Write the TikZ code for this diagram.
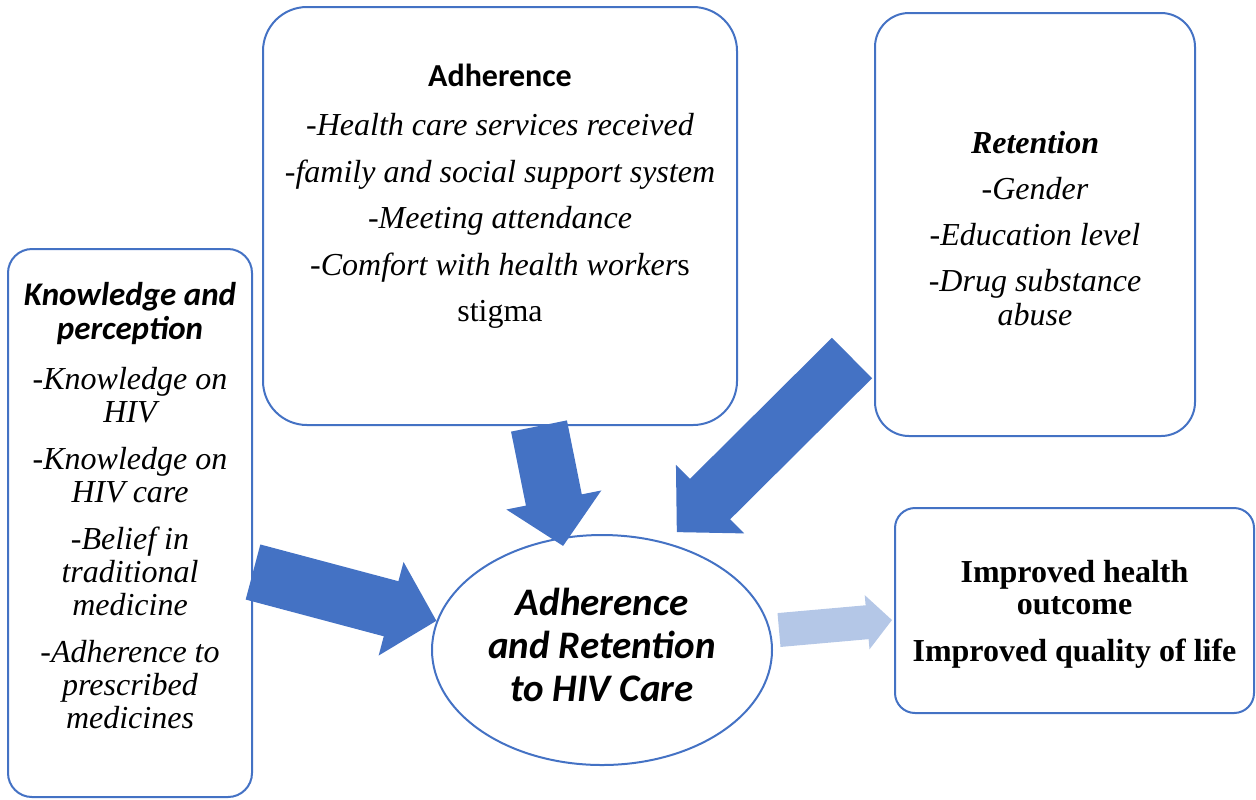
\documentclass[tikz,border=0pt]{standalone}
\usepackage{fontspec}
\setmainfont{Liberation Serif}
\newfontfamily\calfont{Carlito}
\usetikzlibrary{arrows.meta,shapes.geometric}
\definecolor{frame-color}{RGB}{68,114,196}
\definecolor{arrow-color}{RGB}{68,114,196}
\definecolor{light-arrow-color}{RGB}{180,199,231}
\tikzset{
	factorbox/.style={draw=frame-color, line width=1pt, rounded corners=#1, inner sep=0pt},
	boxtext/.style={anchor=north, align=center, inner sep=0pt},
	fatarrow/.style={arrow-color, line width=28.5pt, -{Triangle[length=23.5pt,width=47pt]}},
	lightarrow/.style={light-arrow-color, line width=17pt, -{Triangle[length=12.5pt,width=26.5pt]}}
}

\begin{document}
\begin{tikzpicture}[x=0.5pt,y=-0.5pt]
	    \useasboundingbox (0,0) rectangle (1256,799);
	
	    \node[factorbox=12pt, minimum width=122pt, minimum height=274pt] (know) at (130,523) {};
	    \node[factorbox=22pt, minimum width=237pt, minimum height=209pt] (adh) at (500,216) {};
	    \node[factorbox=17pt, minimum width=160pt, minimum height=211.5pt] (ret) at (1035,224.5) {};
	    \node[factorbox=10pt, minimum width=179.5pt, minimum height=102.5pt] (out) at (1074.5,610.5) {};
	    \node[draw=frame-color, line width=1pt, ellipse, minimum width=170pt, minimum height=115pt, inner sep=0pt] (care) at (602,650) {};
	
	    \node[boxtext, font=\calfont\bfseries\itshape\fontsize{16.5}{17}\selectfont] (know-title) at (130,282) {Knowledge and\\perception};
	    \node[boxtext, font=\itshape\fontsize{16}{16.5}\selectfont] (know-text) at (130,367) {-Knowledge on\\HIV\\[7pt]-Knowledge on\\HIV care\\[7pt]-Belief in\\traditional\\medicine\\[7pt]-Adherence to\\prescribed\\medicines};
	
	    \node[anchor=base, inner sep=0pt, font=\calfont\bfseries\fontsize{16}{18}\selectfont] (adh-title) at (500,86) {Adherence};
	    \node[boxtext, font=\itshape\fontsize{16}{23.25}\selectfont] (adh-text) at (500,113) {-Health care services received\\-family and social support system\\-Meeting attendance\\-Comfort with health worker{\upshape s}\\{\upshape stigma}};
	
	    \node[boxtext, font=\itshape\fontsize{16}{17}\selectfont] (ret-text) at (1035,131) {{\bfseries Retention}\\[6pt]-Gender\\[6pt]-Education level\\[6pt]-Drug substance\\abuse};
	
	    \node[boxtext, font=\bfseries\fontsize{16}{16}\selectfont] (out-text) at (1074.5,560) {Improved health\\outcome\\[7.5pt]Improved quality of life};
	
	    \node[boxtext, font=\calfont\bfseries\itshape\fontsize{19.5}{21.5}\selectfont] (care-text) at (602,588) {Adherence\\and Retention\\to HIV Care};
	
	    \draw[fatarrow] ([yshift=-24.5pt]know.east) -- (care.170);
	    \draw[fatarrow] ([xshift=19.5pt]adh.south) -- ([yshift=-4.5pt]care.109);
	    \draw[fatarrow] ([xshift=-11pt,yshift=-66.75pt]ret.west) -- ([xshift=4pt,yshift=5.5pt]care.58);
	    \draw[lightarrow] ([xshift=3pt,yshift=10pt]care.east) -- ([xshift=-1pt,yshift=-4.75pt]out.west);
	\end{tikzpicture}
\end{document}
